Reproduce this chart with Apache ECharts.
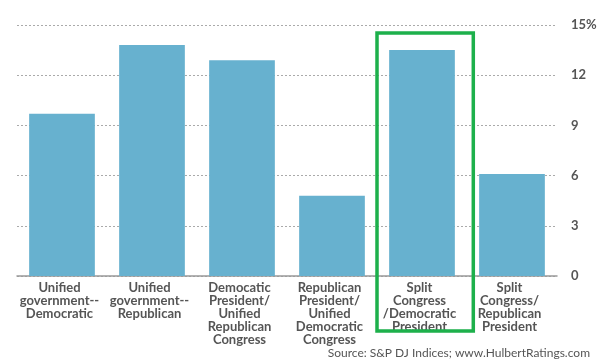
<!DOCTYPE html>
<html><head><meta charset="utf-8">
<script src="https://cdn.jsdelivr.net/npm/echarts@6/dist/echarts.min.js"></script>
<style>html,body{margin:0;padding:0;background:#fff}#c{width:600px;height:364px}</style>
</head><body><div id="c"></div>
<script>
const categories = [
  "Unified\ngovernment--\nDemocratic",
  "Unified\ngovernment--\nRepublican",
  "Democatic\nPresident/\nUnified\nRepublican\nCongress",
  "Republican\nPresident/\nUnified\nDemocratic\nCongress",
  "Split\nCongress\n/Democratic\nPresident",
  "Split\nCongress/\nRepublican\nPresident"
];
const values = [9.7, 13.8, 12.9, 4.8, 13.5, 6.1];
const yTicks = [0, 3, 6, 9, 12, 15];
const highlightIndex = 4;
const sourceText = "Source: S&P DJ Indices; www.HulbertRatings.com";

const chart = echarts.init(document.getElementById('c'), null, {renderer:'canvas'});
const font = 'Lato, "Open Sans", sans-serif';
const sourceGraphic = {type:'text', right:10, bottom:5, style:{text:sourceText, fill:'#555', font:'12px '+font}};
chart.setOption({
  animation:false,
  grid:{left:17, right:43, top:25, bottom:88},
  xAxis:{type:'category', data:categories,
    axisLine:{lineStyle:{color:'#999', width:1.5}},
    axisTick:{show:false},
    axisLabel:{interval:0, color:'#555', fontFamily:font, fontSize:13, fontWeight:'bold', lineHeight:13, margin:5, padding:[0,5,0,0]}
  },
  yAxis:{type:'value', position:'right', min:0, max:15, interval:3,
    axisLine:{show:false}, axisTick:{show:false},
    splitLine:{lineStyle:{color:'#aaa', type:[2,2], width:1}},
    axisLabel:{color:'#555', fontFamily:font, fontSize:13, fontWeight:'bold', margin:14,
      formatter:v => v === yTicks[yTicks.length-1] ? v + '%' : String(v)}
  },
  series:[{type:'bar', data:values, barWidth:'73%', itemStyle:{color:'#67b1cf'}}],
  graphic:[sourceGraphic]
});
// highlight box around the chosen category
const c0 = chart.convertToPixel({xAxisIndex:0}, highlightIndex);
const c1 = chart.convertToPixel({xAxisIndex:0}, highlightIndex+1);
const step = c1 - c0;
chart.setOption({graphic:[sourceGraphic,
  {type:'rect', shape:{x:c0 - step*0.5, y:33, width:step*1.07, height:298},
   style:{fill:'none', stroke:'#1db04b', lineWidth:3.5}, z:10}]});
</script></body></html>
